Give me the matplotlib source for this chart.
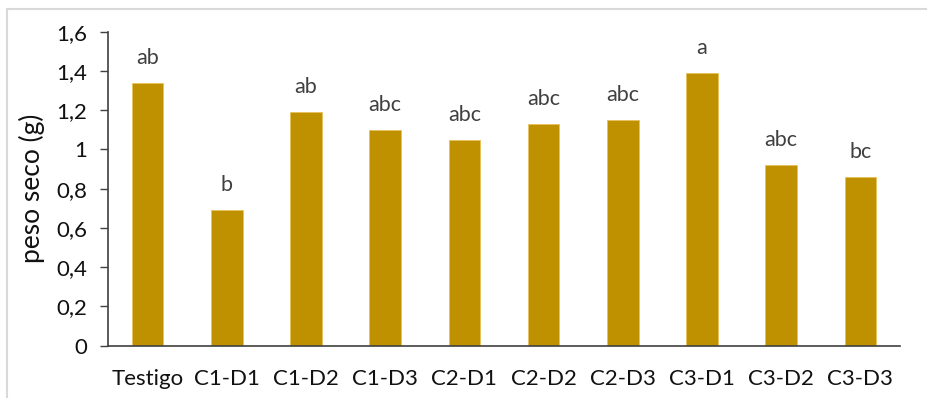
import matplotlib
matplotlib.use("Agg")
import matplotlib.pyplot as plt
from matplotlib.patches import Rectangle
from matplotlib.ticker import FuncFormatter

categories = ["Testigo", "C1-D1", "C1-D2", "C1-D3", "C2-D1",
              "C2-D2", "C2-D3", "C3-D1", "C3-D2", "C3-D3"]
peso_seco = [1.34, 0.69, 1.19, 1.10, 1.05, 1.13, 1.15, 1.39, 0.92, 0.86]
letras = ["ab", "b", "ab", "abc", "abc", "abc", "abc", "a", "abc", "bc"]
y_ticks = [0, 0.2, 0.4, 0.6, 0.8, 1.0, 1.2, 1.4, 1.6]

plt.rcParams["font.family"] = ["Lato", "DejaVu Sans"]

fig = plt.figure(figsize=(9.28, 3.98), dpi=100)
ax = fig.add_axes([108 / 928, 1 - 345.7 / 398, (900 - 108) / 928, (345.7 - 31.7) / 398])

x = range(len(categories))
ax.bar(x, peso_seco, width=0.4, color="#BF9000", edgecolor="#E6C25A", linewidth=0.6, zorder=2)

for xi, v, t in zip(x, peso_seco, letras):
    ax.annotate(t, (xi, v), xytext=(0, 18), textcoords="offset points",
                ha="center", va="center", fontsize=15.5, color="#404040")

ax.set_xlim(-0.5, len(categories) - 0.5)
ax.set_ylim(0, 1.6)
ax.set_yticks(y_ticks)
ax.yaxis.set_major_formatter(FuncFormatter(lambda v, p: f"{v:g}".replace(".", ",")))
ax.set_xticks(list(x))
ax.set_xticklabels(categories)
ax.tick_params(axis="y", length=6, width=1, color="#404040", labelsize=16, pad=9)
ax.tick_params(axis="x", length=0, labelsize=16, pad=17)
for lab in ax.get_xticklabels() + ax.get_yticklabels():
    lab.set_color("#111111")

for side in ("top", "right"):
    ax.spines[side].set_visible(False)
for side in ("left", "bottom"):
    ax.spines[side].set_color("#404040")
    ax.spines[side].set_linewidth(1.2)

ax.set_ylabel("peso seco (g)", fontsize=19, color="#111111", labelpad=8)

# thin grey frame around the chart area
fig.patches.append(Rectangle((7 / 928, -0.05), 1.0, 1 - 9.5 / 398 + 0.05,
                             transform=fig.transFigure, fill=False,
                             edgecolor="#D9D9D9", linewidth=1.5))

fig.savefig("out.png", dpi=100)
